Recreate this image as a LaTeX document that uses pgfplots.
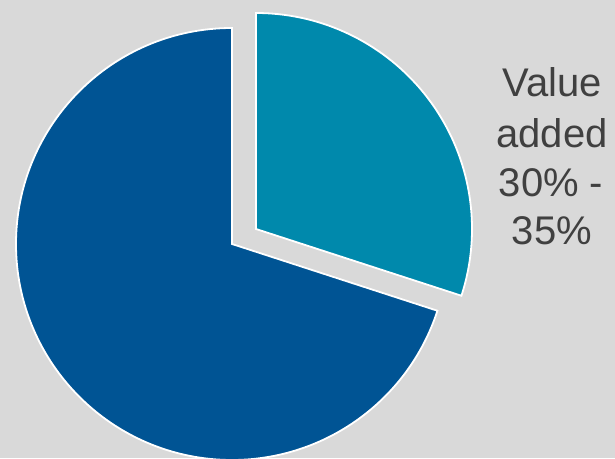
\documentclass[border=0pt]{standalone}
\usepackage{pgfplots}
\pgfplotsset{compat=1.18}
\usepackage{pgfplotstable}
\usepackage{fontspec}
\setmainfont{Liberation Sans}
\definecolor{bgcol}{HTML}{D9D9D9}
\definecolor{darkblue}{HTML}{005494}
\definecolor{tealblue}{HTML}{0089AC}
\definecolor{txtgray}{HTML}{404040}

\pgfplotstableread{
label value
Other 70
Added 30
}\piedata

\begin{document}
\begin{tikzpicture}
\pgfplotstablegetelem{0}{value}\of\piedata \let\vOther\pgfplotsretval
\pgfplotstablegetelem{1}{value}\of\piedata \let\vAdded\pgfplotsretval
\pgfmathsetmacro{\aSplit}{90-3.6*\vAdded}
\pgfmathsetmacro{\aOtherEnd}{90+3.6*\vOther}
\begin{axis}[hide axis, scale only axis, width=615pt, height=458pt,
  xmin=0, xmax=615, ymin=0, ymax=458, clip=true]
\fill[bgcol] (axis cs:0,0) rectangle (axis cs:615,458);
% other (dark) slice
\filldraw[overlay, fill=darkblue, draw=white, line width=1.8pt, line join=miter]
  (axis cs:232,214) -- ++(90:216pt) arc[start angle=90, end angle=\aOtherEnd, radius=216pt] -- cycle;
% value added slice (exploded)
\filldraw[overlay, fill=tealblue, draw=white, line width=1.8pt, line join=miter]
  (axis cs:256,229) -- ++(\aSplit:216pt) arc[start angle=\aSplit, end angle=90, radius=216pt] -- cycle;
\begin{scope}[every node/.style={anchor=base, text=txtgray, font=\fontsize{40}{49}\selectfont, inner sep=0pt}]
\node at (axis cs:552,361) {Value};
\node at (axis cs:552,310) {added};
\node at (axis cs:551,261) {30\% -};
\node at (axis cs:552,213) {35\%};
\end{scope}
\end{axis}
\end{tikzpicture}
\end{document}
